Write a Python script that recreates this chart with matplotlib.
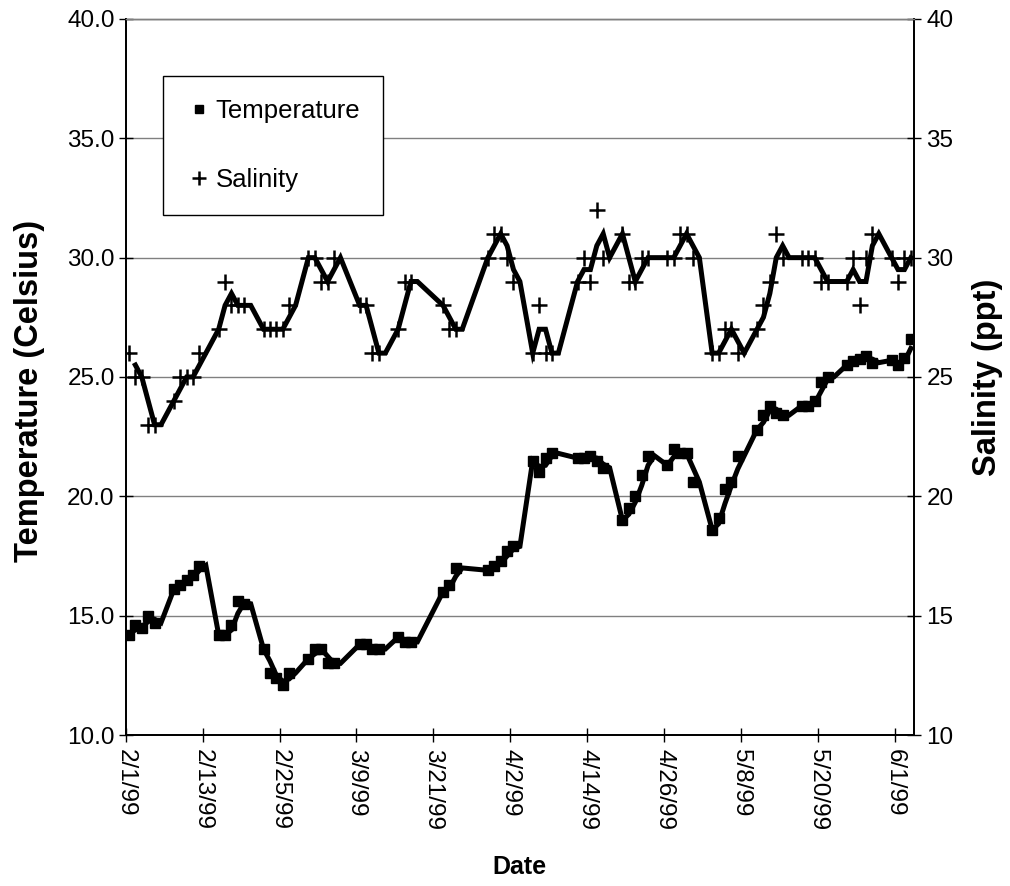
import matplotlib
matplotlib.use("Agg")
import matplotlib.pyplot as plt
import matplotlib.ticker as mticker
from matplotlib.lines import Line2D
import pandas as pd

plt.rcParams["font.family"] = ["Liberation Sans", "DejaVu Sans"]

# Daily water temperature readings (Celsius), weekdays only
temp_dates = [
    "2/1/99", "2/2/99", "2/3/99", "2/4/99", "2/5/99",
    "2/8/99", "2/9/99", "2/10/99", "2/11/99", "2/12/99",
    "2/15/99", "2/16/99", "2/17/99", "2/18/99", "2/19/99",
    "2/22/99", "2/23/99", "2/24/99", "2/25/99", "2/26/99",
    "3/1/99", "3/2/99", "3/3/99", "3/4/99", "3/5/99",
    "3/9/99", "3/10/99", "3/11/99", "3/12/99",
    "3/15/99", "3/16/99", "3/17/99",
    "3/22/99", "3/23/99", "3/24/99",
    "3/29/99", "3/30/99", "3/31/99", "4/1/99", "4/2/99",
    "4/5/99", "4/6/99", "4/7/99", "4/8/99",
    "4/12/99", "4/13/99", "4/14/99", "4/15/99", "4/16/99",
    "4/19/99", "4/20/99", "4/21/99", "4/22/99", "4/23/99",
    "4/26/99", "4/27/99", "4/28/99", "4/29/99", "4/30/99",
    "5/3/99", "5/4/99", "5/5/99", "5/6/99", "5/7/99",
    "5/10/99", "5/11/99", "5/12/99", "5/13/99", "5/14/99",
    "5/17/99", "5/18/99", "5/19/99", "5/20/99", "5/21/99",
    "5/24/99", "5/25/99", "5/26/99", "5/27/99", "5/28/99",
    "5/31/99", "6/1/99", "6/2/99", "6/3/99",
]
temp_values = [
    14.2, 14.6, 14.5, 15.0, 14.7,
    16.1, 16.3, 16.5, 16.7, 17.1,
    14.2, 14.2, 14.6, 15.6, 15.5,
    13.6, 12.6, 12.4, 12.1, 12.6,
    13.2, 13.6, 13.6, 13.0, 13.0,
    13.8, 13.8, 13.6, 13.6,
    14.1, 13.9, 13.9,
    16.0, 16.3, 17.0,
    16.9, 17.1, 17.3, 17.7, 17.9,
    21.5, 21.0, 21.6, 21.8,
    21.6, 21.6, 21.7, 21.5, 21.2,
    19.0, 19.5, 20.0, 20.9, 21.7,
    21.3, 22.0, 21.8, 21.8, 20.6,
    18.6, 19.1, 20.3, 20.6, 21.7,
    22.8, 23.4, 23.8, 23.5, 23.4,
    23.8, 23.8, 24.0, 24.8, 25.0,
    25.5, 25.65, 25.75, 25.9, 25.6,
    25.7, 25.5, 25.8, 26.6,
]

# Daily salinity readings (ppt), weekdays only
sal_dates = [
    "2/1/99", "2/2/99", "2/3/99", "2/4/99", "2/5/99",
    "2/8/99", "2/9/99", "2/10/99", "2/11/99", "2/12/99",
    "2/15/99", "2/16/99", "2/17/99", "2/18/99", "2/19/99",
    "2/22/99", "2/23/99", "2/24/99", "2/25/99", "2/26/99",
    "3/1/99", "3/2/99", "3/3/99", "3/4/99", "3/5/99",
    "3/9/99", "3/10/99", "3/11/99", "3/12/99",
    "3/15/99", "3/16/99", "3/17/99",
    "3/22/99", "3/23/99", "3/24/99",
    "3/29/99", "3/30/99", "3/31/99", "4/1/99", "4/2/99",
    "4/5/99", "4/6/99", "4/7/99", "4/8/99",
    "4/12/99", "4/13/99", "4/14/99", "4/15/99", "4/16/99",
    "4/19/99", "4/20/99", "4/21/99", "4/22/99", "4/23/99",
    "4/26/99", "4/27/99", "4/28/99", "4/29/99", "4/30/99",
    "5/3/99", "5/4/99", "5/5/99", "5/6/99", "5/7/99",
    "5/10/99", "5/11/99", "5/12/99", "5/13/99", "5/14/99",
    "5/17/99", "5/18/99", "5/19/99", "5/20/99", "5/21/99",
    "5/24/99", "5/25/99", "5/26/99", "5/27/99", "5/28/99",
    "5/31/99", "6/1/99", "6/2/99", "6/3/99",
]
sal_values = [
    26, 25, 25, 23, 23,
    24, 25, 25, 25, 26,
    27, 29, 28, 28, 28,
    27, 27, 27, 27, 28,
    30, 30, 29, 29, 30,
    28, 28, 26, 26,
    27, 29, 29,
    28, 27, 27,
    30, 31, 31, 30, 29,
    26, 28, 26, 26,
    29, 30, 29, 32, 30,
    31, 29, 29, 30, 30,
    30, 30, 31, 31, 30,
    26, 26, 27, 27, 26,
    27, 28, 29, 31, 30,
    30, 30, 30, 29, 29,
    29, 30, 28, 30, 31,
    30, 29, 30, 30,
]

tick_labels = ["2/1/99", "2/13/99", "2/25/99", "3/9/99", "3/21/99", "4/2/99",
               "4/14/99", "4/26/99", "5/8/99", "5/20/99", "6/1/99"]
axis_start, axis_end = "2/1/99", "6/4/99"


def as_dates(labels, noon=False):
    d = pd.to_datetime(labels, format="%m/%d/%y")
    return d + pd.Timedelta(hours=12) if noon else d


def two_day_average(dates, values):
    """Two-period moving average over the calendar, skipping empty days."""
    s = pd.Series(values, index=dates)
    full = s.reindex(pd.date_range(dates.min(), dates.max(), freq="D"))
    ma = full.rolling(2, min_periods=1).mean().iloc[1:]
    return ma.dropna()


t_x = as_dates(temp_dates, noon=True)
s_x = as_dates(sal_dates, noon=True)
t_ma = two_day_average(t_x, temp_values)
s_ma = two_day_average(s_x, sal_values)

fig = plt.figure(figsize=(10.1, 8.86), dpi=100)
ax = fig.add_axes([0.1245, 0.1704, 0.7805, 0.8082])
ax2 = ax.twinx()

FS = 17.5
TITLE_FS = 23.5
LEG_FS = 18.5

# temperature: points plus two-period moving average
ax.plot(t_x, temp_values, linestyle="none", marker="s", markersize=7,
        color="black", zorder=3)
ax.plot(t_ma.index, t_ma.values, color="black", linewidth=3.6,
        solid_joinstyle="miter", zorder=4)

# salinity on the secondary axis
ax2.plot(s_x, sal_values, linestyle="none", marker="+", markersize=11,
         markeredgewidth=1.8, color="black", zorder=3)
ax2.plot(s_ma.index, s_ma.values, color="black", linewidth=3.6,
         solid_joinstyle="miter", zorder=4)

ax.set_xlim(as_dates([axis_start])[0], as_dates([axis_end])[0])
ax.set_ylim(10, 40)
ax2.set_ylim(10, 40)
ax.yaxis.set_major_locator(mticker.MultipleLocator(5))
ax2.yaxis.set_major_locator(mticker.MultipleLocator(5))
ax.yaxis.set_major_formatter(mticker.FormatStrFormatter("%.1f"))
ax2.yaxis.set_major_formatter(mticker.FormatStrFormatter("%d"))

ticks = as_dates(tick_labels)
ax.set_xticks(ticks)
ax.set_xticklabels(tick_labels, rotation=-90, fontsize=FS, va="top", ha="center")

ax.yaxis.grid(True, color="#808080", linewidth=1.0)
ax.set_axisbelow(True)

for a in (ax, ax2):
    a.tick_params(axis="both", direction="inout", length=10, width=1.0,
                  labelsize=FS, colors="black")
    for side in ("left", "right", "bottom"):
        a.spines[side].set_color("black")
        a.spines[side].set_linewidth(1.3)
    a.spines["top"].set_color("#808080")
    a.spines["top"].set_linewidth(1.0)
ax.tick_params(axis="x", pad=5)
ax.tick_params(axis="y", pad=3)
ax2.tick_params(axis="y", pad=4)

ax.set_ylabel("Temperature (Celsius)", fontsize=TITLE_FS, fontweight="bold")
ax.yaxis.set_label_coords(-0.103, 0.48)
ax2.set_ylabel("Salinity (ppt)", fontsize=TITLE_FS, fontweight="bold",
               rotation=90)
ax2.yaxis.set_label_coords(1.074, 0.5)
ax.set_xlabel("Date", fontsize=18, fontweight="bold")
ax.xaxis.set_label_coords(0.5, -0.168)

handles = [
    Line2D([], [], linestyle="none", marker="s", markersize=6, color="black"),
    Line2D([], [], linestyle="none", marker="+", markersize=10,
           markeredgewidth=1.8, color="black"),
]
leg = ax.legend(handles, ["Temperature", "Salinity"], loc="upper left",
                bbox_to_anchor=(0.047, 0.92), fontsize=LEG_FS, frameon=True,
                fancybox=False, framealpha=1, edgecolor="black",
                borderpad=0.9, labelspacing=1.75, handlelength=1.0,
                handletextpad=0.15, borderaxespad=0)
leg.get_frame().set_linewidth(1.0)
leg.set_zorder(10)

fig.savefig("out.png", dpi=100)
